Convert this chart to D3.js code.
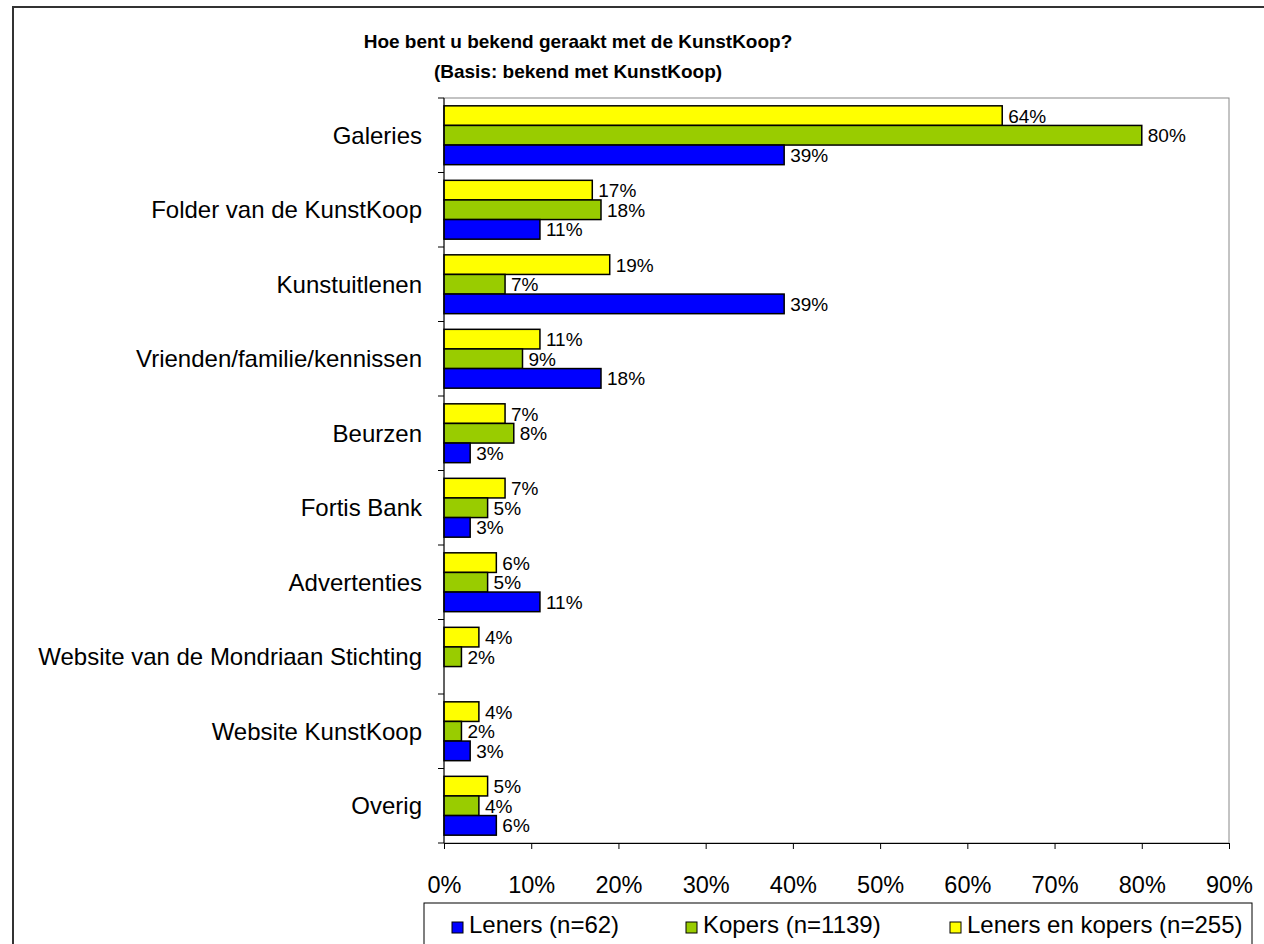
<!DOCTYPE html>
<html>
<head>
<meta charset="utf-8">
<script src="https://cdn.jsdelivr.net/npm/d3@7"></script>
<style>
  body { margin: 0; background: #fff; }
  svg { font-family: "Liberation Sans", Arial, sans-serif; }
</style>
</head>
<body>
<script>
const categories = ['Galeries', 'Folder van de KunstKoop', 'Kunstuitlenen', 'Vrienden/familie/kennissen',
    'Beurzen', 'Fortis Bank', 'Advertenties', 'Website van de Mondriaan Stichting', 'Website KunstKoop', 'Overig']

const leners = [39, 11, 39, 18, 3, 3, 11, null, 3, 6]
const kopers = [80, 18, 7, 9, 8, 5, 5, 2, 2, 4]
const lenersKopers = [64, 17, 19, 11, 7, 7, 6, 4, 4, 5]

const seriesNames = ['Leners (n=62)', 'Kopers (n=1139)', 'Leners en kopers (n=255)']
const seriesColors = ['#0000ff', '#99cc00', '#ffff00']
const ticks = [0, 10, 20, 30, 40, 50, 60, 70, 80, 90]

const width = 1264
const height = 944
const margin = ({top: 98, right: 35, bottom: 101, left: 444})

const series = [
    {name: seriesNames[2], color: seriesColors[2], values: lenersKopers},
    {name: seriesNames[1], color: seriesColors[1], values: kopers},
    {name: seriesNames[0], color: seriesColors[0], values: leners},
]

const x = d3.scaleLinear()
    .domain([0, 90])
    .range([margin.left, width - margin.right])

const y = d3.scaleBand()
    .domain(categories)
    .range([margin.top, height - margin.bottom])
    .paddingInner(0.21)
    .paddingOuter(0.105)

const inner = d3.scaleBand()
    .domain(d3.range(series.length))
    .range([0, y.bandwidth()])

const svg = d3.select('body').append('svg')
    .attr('width', width)
    .attr('height', height)

// outer chart frame
svg.append('rect')
    .attr('x', 13).attr('y', 7)
    .attr('width', width + 10).attr('height', height + 10)
    .attr('fill', 'none').attr('stroke', '#333').attr('stroke-width', 2)

// plot area frame
svg.append('rect')
    .attr('x', margin.left).attr('y', margin.top)
    .attr('width', x(90) - margin.left).attr('height', height - margin.bottom - margin.top)
    .attr('fill', 'none').attr('stroke', '#888')

svg.append('text')
    .attr('x', 578).attr('y', 48)
    .attr('text-anchor', 'middle')
    .attr('font-weight', 'bold').attr('font-size', 19)
    .text('Hoe bent u bekend geraakt met de KunstKoop?')
svg.append('text')
    .attr('x', 578).attr('y', 78)
    .attr('text-anchor', 'middle')
    .attr('font-weight', 'bold').attr('font-size', 19)
    .text('(Basis: bekend met KunstKoop)')

const groups = svg.append('g')
  .selectAll('g')
  .data(series)
  .join('g')
    .attr('fill', d => d.color)

groups.selectAll('rect')
  .data((s, si) => s.values.map((v, i) => ({v, i, si})).filter(d => d.v != null))
  .join('rect')
    .attr('x', x(0))
    .attr('y', d => y(categories[d.i]) + inner(d.si))
    .attr('width', d => x(d.v) - x(0))
    .attr('height', inner.bandwidth())
    .attr('stroke', '#000')
    .attr('stroke-width', 1.5)

groups.selectAll('text')
  .data((s, si) => s.values.map((v, i) => ({v, i, si})).filter(d => d.v != null))
  .join('text')
    .attr('x', d => x(d.v) + 6)
    .attr('y', d => y(categories[d.i]) + inner(d.si) + inner.bandwidth() / 2 + 7)
    .attr('fill', '#000')
    .attr('font-size', 19)
    .text(d => d.v + '%')

// y axis: ticks between categories
const yAxis = svg.append('g')
yAxis.append('line')
    .attr('x1', margin.left).attr('x2', margin.left)
    .attr('y1', margin.top).attr('y2', height - margin.bottom)
    .attr('stroke', '#000')
yAxis.selectAll('line.t')
  .data(d3.range(categories.length + 1))
  .join('line')
    .attr('class', 't')
    .attr('x1', margin.left - 6).attr('x2', margin.left)
    .attr('y1', i => margin.top + i * y.step())
    .attr('y2', i => margin.top + i * y.step())
    .attr('stroke', '#000')
yAxis.selectAll('text')
  .data(categories)
  .join('text')
    .attr('x', margin.left - 22)
    .attr('y', d => y(d) + y.bandwidth() / 2 + 8.5)
    .attr('text-anchor', 'end')
    .attr('font-size', 24)
    .text(d => d)

const xAxis = g => g
    .attr('transform', `translate(0,${height - margin.bottom})`)
    .attr('font-family', null)
    .call(d3.axisBottom(x).tickValues(ticks).tickFormat(d => d + '%').tickSize(6).tickPadding(27))
    .call(g => g.selectAll('text').attr('font-size', 23.5).attr('fill', '#000'))
    .call(g => g.selectAll('line, path').attr('stroke', '#000'))

svg.append('g').call(xAxis)

// legend
const legend = svg.append('g')
legend.append('rect')
    .attr('x', 424).attr('y', 903)
    .attr('width', 828).attr('height', 60)
    .attr('fill', '#fff').attr('stroke', '#000')
const legendX = [452, 686, 950]
const items = legend.selectAll('g')
  .data(seriesNames)
  .join('g')
    .attr('transform', (d, i) => `translate(${legendX[i]},933)`)
items.append('rect')
    .attr('x', 0).attr('y', -11)
    .attr('width', 11).attr('height', 11)
    .attr('fill', (d, i) => seriesColors[i])
    .attr('stroke', '#000')
items.append('text')
    .attr('x', 17).attr('y', 0)
    .attr('font-size', 24)
    .text(d => d)
</script>
</body>
</html>
